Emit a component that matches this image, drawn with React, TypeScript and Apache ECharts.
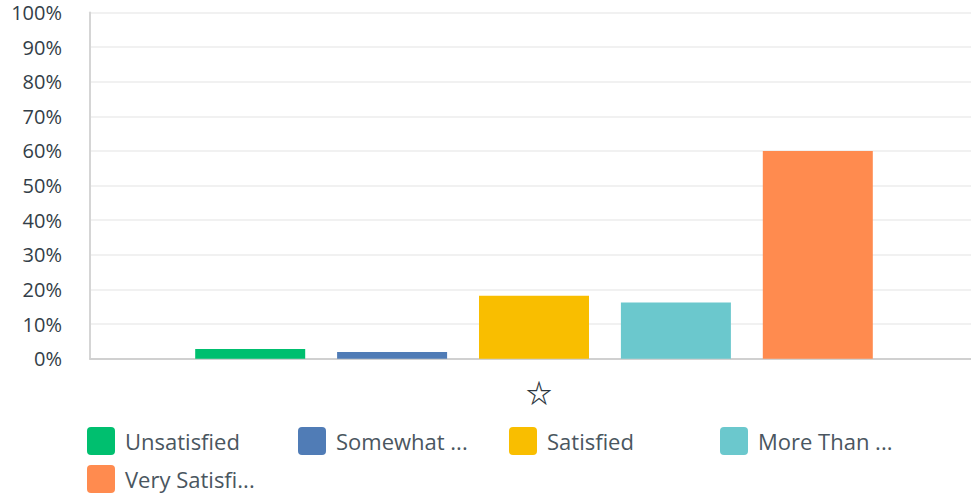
import React, { useEffect, useRef } from "react";
import * as echarts from "echarts";

const categories = ["☆"];
const seriesNames = ["Unsatisfied", "Somewhat ...", "Satisfied", "More Than ...", "Very Satisfi..."];
const seriesValues = [2.8, 1.9, 18.2, 16.2, 60.0];
const seriesColors = ["#00bf6f", "#507cb6", "#f9be00", "#6bc8cd", "#ff8b4f"];
const yTicks = [0, 10, 20, 30, 40, 50, 60, 70, 80, 90, 100];

const ICON = "path://M4,0H24A4,4,0,0,1,28,4V24A4,4,0,0,1,24,28H4A4,4,0,0,1,0,24V4A4,4,0,0,1,4,0Z";

// legend slot layout (4 per row)
const legendLeft = [87, 298, 509, 720, 87];
const legendTop = [427, 427, 427, 427, 465];

export default function App() {
  const ref = useRef<HTMLDivElement>(null);
  useEffect(() => {
    if (!ref.current) return;
    const chart = echarts.init(ref.current, null, { renderer: "svg" });
    chart.setOption({
      animation: false,
      grid: {
        left: 90,
        width: 888,
        top: 12.5,
        height: 346.2,
        containLabel: false,
        outerBoundsMode: "none",
      },
      xAxis: {
        type: "category",
        data: categories,
        axisLine: { lineStyle: { color: "#d0d0d0", width: 2 } },
        axisTick: { show: false },
        axisLabel: {
          margin: 20,
          fontSize: 26,
          color: "#2d3740",
          fontFamily: "Noto Sans CJK JP",
          fontWeight: "bold",
          padding: [0, 0, 0, 10],
        },
      },
      yAxis: {
        type: "value",
        min: yTicks[0],
        max: yTicks[yTicks.length - 1],
        interval: 10,
        axisLine: { show: true, lineStyle: { color: "#d5d5d5", width: 2 } },
        axisTick: { show: false },
        splitLine: { lineStyle: { color: "#ececec", width: 1.5 } },
        axisLabel: {
          formatter: "{value}%",
          margin: 28,
          fontSize: 20,
          color: "#333e48",
          fontFamily: "Open Sans",
        },
      },
      legend: seriesNames.map((name, i) => ({
        left: legendLeft[i],
        top: legendTop[i],
        padding: 0,
        itemWidth: 28,
        itemHeight: 28,
        icon: ICON,
        data: [name],
        selectedMode: false,
        textStyle: {
          fontSize: 22,
          color: "#4a5660",
          fontFamily: "Open Sans",
          padding: [0, 0, 0, 5],
        },
      })),
      series: seriesNames.map((name, i) => ({
        name,
        type: "bar",
        data: [seriesValues[i]],
        barWidth: 110,
        barGap: "29%",
        itemStyle: { color: seriesColors[i] },
        emphasis: { disabled: true },
      })),
    });
    return () => chart.dispose();
  }, []);
  return (
    <div
      ref={ref}
      style={{ position: "fixed", left: 0, top: 0, width: 971, height: 496, background: "#fff" }}
    />
  );
}
